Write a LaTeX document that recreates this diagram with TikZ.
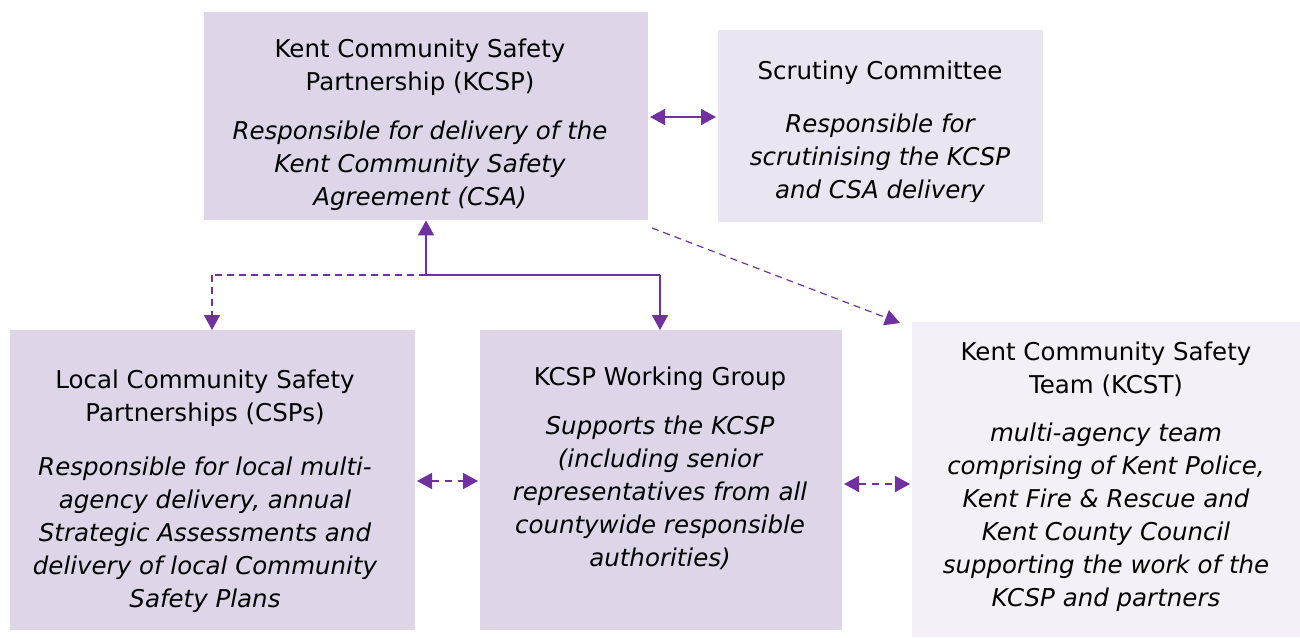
\documentclass[tikz,border=0pt]{standalone}
\usepackage{fontspec}
\setmainfont{DejaVu Sans}
\usetikzlibrary{arrows.meta}
\definecolor{boxA}{HTML}{DED6E8}
\definecolor{boxB}{HTML}{EAE6F1}
\definecolor{boxC}{HTML}{F3F1F7}
\definecolor{arr}{HTML}{7030A0}
\tikzset{
  box/.style={draw=none,inner sep=0pt,anchor=north west},
  ttl/.style={align=center,inner sep=0pt,font=\fontsize{24.5}{33}\selectfont},
  desc/.style={align=center,inner sep=0pt,font=\fontsize{24.5}{33}\selectfont\itshape},
  con/.style={draw=arr,line width=1.6pt,-{Triangle[length=15pt,width=16pt]}},
  dcon/.style={con,dash pattern=on 7pt off 5pt},
  bcon/.style={draw=arr,line width=1.6pt,{Triangle[length=15pt,width=16pt]}-{Triangle[length=15pt,width=16pt]}},
  dbcon/.style={bcon,dash pattern=on 7pt off 6pt},
}
\begin{document}
\begin{tikzpicture}[x=1pt,y=-1pt]
\useasboundingbox (0,0) rectangle (1300,637);
% boxes
\node[box,fill=boxA,minimum width=444pt,minimum height=208pt] (kcsp) at (204,12) {};
\node[box,fill=boxB,minimum width=325pt,minimum height=192pt] (scr) at (718,30) {};
\node[box,fill=boxA,minimum width=405pt,minimum height=300pt] (loc) at (10,330) {};
\node[box,fill=boxA,minimum width=362pt,minimum height=300pt] (wg) at (480,330) {};
\node[box,fill=boxC,minimum width=388pt,minimum height=315pt] (kcst) at (912,322) {};
% texts
\node[ttl] (kcspT) at (420,67) {Kent Community Safety\\Partnership (KCSP)};
\node[desc] (kcspD) at (420,165.5) {Responsible for delivery of the\\Kent Community Safety\\Agreement (CSA)};
\node[ttl] (scrT) at (880,73) {Scrutiny Committee};
\begin{scope}
\clip (718,30) rectangle (1043,201);
\node[desc] (scrD) at (880,158.5) {Responsible for\\scrutinising the KCSP\\and CSA delivery};
\end{scope}
\node[ttl] (locT) at (205,398.5) {Local Community Safety\\Partnerships (CSPs)};
\node[desc] (locD) at (205,535) {Responsible for local multi-\\agency delivery, annual\\Strategic Assessments and\\delivery of local Community\\Safety Plans};
\node[ttl] (wgT) at (660,379) {KCSP Working Group};
\node[desc] (wgD) at (660,493) {Supports the KCSP\\(including senior\\representatives from all\\countywide responsible\\authorities)};
\node[ttl] (kcstT) at (1106,369.5) {Kent Community Safety\\Team (KCST)};
\node[desc] (kcstD) at (1106,517.5) {multi-agency team\\comprising of Kent Police,\\Kent Fire \& Rescue and\\Kent County Council\\supporting the work of the\\KCSP and partners};
% connectors
\coordinate (a1) at (650,117);
\coordinate (a2) at (716,117);
\draw[bcon] (a1) -- (a2);
\coordinate (j) at (426,275);
\draw[con] (j) -- (kcsp.south -| j);
\coordinate (k) at (660,275);
\draw[draw=arr,line width=1.6pt] (j) -- (k);
\draw[con] (k) -- (wg.north -| k);
\coordinate (l) at (212,275);
\draw[draw=arr,line width=1.6pt,dash pattern=on 7pt off 5pt] (j) -- (l);
\draw[dcon] (l) -- (loc.north -| l);
\coordinate (d1) at (652,228);
\coordinate (d2) at (900,323);
\draw[dcon,line width=1.2pt] (d1) -- (d2);
\coordinate (b1) at (417,481);
\coordinate (b2) at (478,481);
\draw[dbcon] (b1) -- (b2);
\coordinate (c1) at (844,484);
\coordinate (c2) at (910,484);
\draw[dbcon] (c1) -- (c2);
\end{tikzpicture}
\end{document}
